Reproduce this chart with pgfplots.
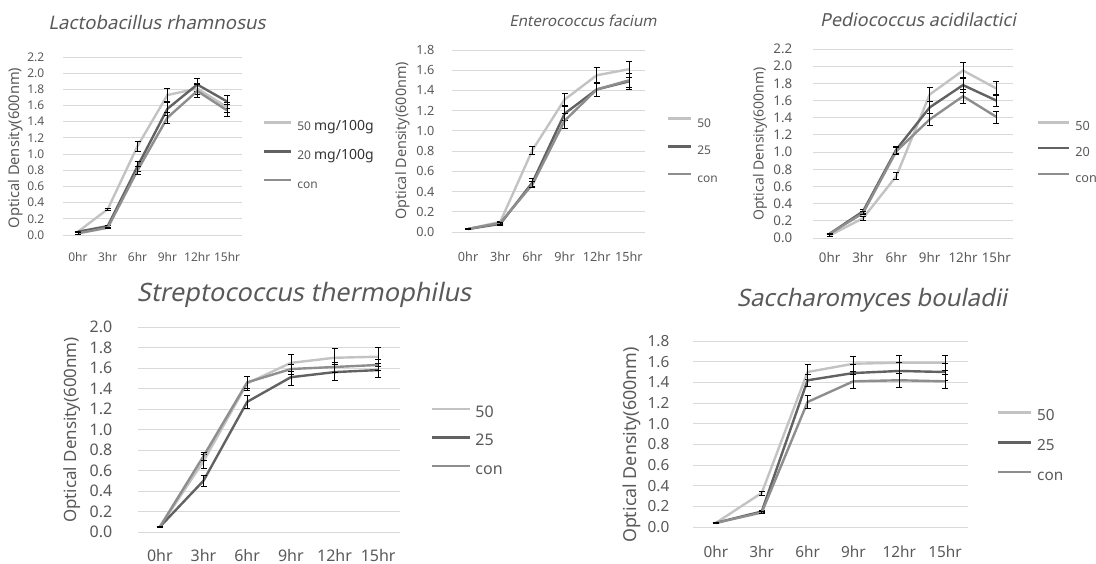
\documentclass[border=0pt]{standalone}
\usepackage{fontspec}
\setmainfont{Noto Sans}
\newfontfamily\tfont[FakeSlant=0.2]{Noto Sans}
\usepackage{pgfplots}
\pgfplotsset{compat=1.18}
\definecolor{cA}{HTML}{C3C3C3}
\definecolor{cB}{HTML}{626262}
\definecolor{cC}{HTML}{8E8E8E}
\definecolor{gridc}{HTML}{D9D9D9}
\definecolor{txt}{HTML}{595959}
\def\u{0.75pt}

\pgfplotsset{
  panel/.style={
    scale only axis, anchor=south west, clip=false,
    ymin=0, xmin=-0.5, xmax=5.5,
    xtick={0,...,5}, xticklabels={0hr,3hr,6hr,9hr,12hr,15hr},
    ytick distance=0.2,
    axis line style={draw=none}, tick style={draw=none}, major tick length=0pt,
    ymajorgrids, grid style={gridc, line width=0.75pt},
    /pgf/number format/assume math mode=true,
    /pgf/number format/fixed, /pgf/number format/fixed zerofill,
    /pgf/number format/precision=1,
    ticklabel style={text=txt},
    legend cell align=left,
    legend style={draw=none, fill=none, inner sep=0pt, anchor=west, text=txt,
      nodes={inner sep=0pt, text height=0.75em, text depth=0.2em},
      /tikz/every odd column/.style={column sep=3.5pt}},
  },
  leg/.style 2 args={legend image code/.code={\draw[##1] (0pt,0.35em) -- (#1,0.35em);},
    legend style={row sep=#2}},
  ser/.style={line width=1.8pt,
    error bars/y dir=both, error bars/y explicit,
    error bars/error bar style={black, line width=0.5pt},
    error bars/error mark options={black, rotate=90, mark size=2.25pt, line width=0.5pt}},
}

\begin{document}
\begin{tikzpicture}
\path[use as bounding box] (0,0) rectangle (1096*\u,-564*\u);

% Lactobacillus rhamnosus
\begin{axis}[panel, at={(63*\u,-235*\u)}, width=179*\u, height=178*\u, ymax=2.2,
  ticklabel style={font=\fontsize{9}{10}\selectfont},
  yticklabel style={anchor=east, xshift=-18*\u+3pt},
  xticklabel style={anchor=center, yshift=-22*\u},
  legend style={at={(1.117,0.444)}, font=\fontsize{9}{10}\selectfont},
  leg={27*\u}{12pt}]
\addplot[cA, ser] coordinates {(0,0.04) +- (0,0.01) (1,0.32) +- (0,0.01) (2,1.10) +- (0,0.06) (3,1.73) +- (0,0.08) (4,1.81) +- (0,0.07) (5,1.58) +- (0,0.06)};
\addlegendentry{50 {\color{black!80}\fontsize{10.5}{11}\selectfont mg/100g}}
\addplot[cB, ser] coordinates {(0,0.04) +- (0,0.01) (1,0.11) +- (0,0.01) (2,0.85) +- (0,0.06) (3,1.56) +- (0,0.08) (4,1.86) +- (0,0.08) (5,1.65) +- (0,0.08)};
\addlegendentry{20 {\color{black!80}\fontsize{10.5}{11}\selectfont mg/100g}}
\addplot[cC, ser] coordinates {(0,0.02) +- (0,0.01) (1,0.09) +- (0,0.01) (2,0.80) +- (0,0.05) (3,1.45) +- (0,0.07) (4,1.78) +- (0,0.08) (5,1.54) +- (0,0.07)};
\addlegendentry{con}
\end{axis}

% Enterococcus facium
\begin{axis}[panel, at={(452*\u,-232*\u)}, width=193*\u, height=182*\u, ymax=1.8,
  ticklabel style={font=\fontsize{9.5}{10}\selectfont},
  yticklabel style={anchor=east, xshift=-17*\u+3pt},
  xticklabel style={anchor=center, yshift=-25*\u},
  legend style={at={(1.114,0.445)}, font=\fontsize{9}{10}\selectfont},
  leg={23*\u}{11.25pt}]
\addplot[cA, ser] coordinates {(0,0.03) +- (0,0.005) (1,0.10) +- (0,0.01) (2,0.81) +- (0,0.04) (3,1.31) +- (0,0.06) (4,1.55) +- (0,0.08) (5,1.61) +- (0,0.08)};
\addlegendentry{50}
\addplot[cB, ser] coordinates {(0,0.03) +- (0,0.005) (1,0.08) +- (0,0.01) (2,0.49) +- (0,0.04) (3,1.17) +- (0,0.07) (4,1.41) +- (0,0.07) (5,1.49) +- (0,0.08)};
\addlegendentry{25}
\addplot[cC, ser] coordinates {(0,0.03) +- (0,0.005) (1,0.09) +- (0,0.01) (2,0.47) +- (0,0.03) (3,1.10) +- (0,0.07) (4,1.41) +- (0,0.07) (5,1.50) +- (0,0.07)};
\addlegendentry{con}
\end{axis}

% Pediococcus acidilactici
\begin{axis}[panel, at={(813*\u,-238*\u)}, width=200*\u, height=189*\u, ymax=2.2,
  ticklabel style={font=\fontsize{10}{11}\selectfont},
  yticklabel style={anchor=east, xshift=-20*\u+3pt},
  xticklabel style={anchor=center, yshift=-19*\u},
  legend style={at={(1.12,0.45)}, font=\fontsize{9.5}{10}\selectfont},
  leg={31*\u}{9.9pt}]
\addplot[cA, ser] coordinates {(0,0.03) +- (0,0.01) (1,0.23) +- (0,0.02) (2,0.72) +- (0,0.04) (3,1.67) +- (0,0.08) (4,1.95) +- (0,0.09) (5,1.74) +- (0,0.08)};
\addlegendentry{50}
\addplot[cB, ser] coordinates {(0,0.05) +- (0,0.01) (1,0.31) +- (0,0.02) (2,1.03) +- (0,0.04) (3,1.52) +- (0,0.07) (4,1.78) +- (0,0.09) (5,1.60) +- (0,0.07)};
\addlegendentry{20}
\addplot[cC, ser] coordinates {(0,0.05) +- (0,0.01) (1,0.29) +- (0,0.02) (2,1.01) +- (0,0.04) (3,1.38) +- (0,0.07) (4,1.65) +- (0,0.08) (5,1.41) +- (0,0.07)};
\addlegendentry{con}
\end{axis}

% Streptococcus thermophilus
\begin{axis}[panel, at={(138*\u,-532*\u)}, width=262*\u, height=205*\u, ymax=2.0,
  ticklabel style={font=\fontsize{12}{13}\selectfont},
  yticklabel style={anchor=east, xshift=-25*\u+3pt},
  xticklabel style={anchor=center, yshift=-23*\u},
  legend style={at={(1.115,0.439)}, font=\fontsize{12}{13}\selectfont},
  leg={38*\u}{11.85pt}]
\addplot[cA, ser] coordinates {(0,0.05) +- (0,0.005) (1,0.69) +- (0,0.07) (2,1.45) +- (0,0.07) (3,1.65) +- (0,0.08) (4,1.70) +- (0,0.09) (5,1.71) +- (0,0.09)};
\addlegendentry{50}
\addplot[cB, ser] coordinates {(0,0.05) +- (0,0.005) (1,0.50) +- (0,0.05) (2,1.27) +- (0,0.06) (3,1.51) +- (0,0.08) (4,1.56) +- (0,0.08) (5,1.58) +- (0,0.07)};
\addlegendentry{25}
\addplot[cC, ser] coordinates {(0,0.05) +- (0,0.005) (1,0.74) +- (0,0.04) (2,1.46) +- (0,0.06) (3,1.59) +- (0,0.05) (4,1.61) +- (0,0.05) (5,1.63) +- (0,0.05)};
\addlegendentry{con}
\end{axis}

% Saccharomyces bouladii
\begin{axis}[panel, at={(693*\u,-527*\u)}, width=275*\u, height=186*\u, ymax=1.8,
  ticklabel style={font=\fontsize{11.5}{12}\selectfont},
  yticklabel style={anchor=east, xshift=-23*\u+3pt},
  xticklabel style={anchor=center, yshift=-25*\u},
  legend style={at={(1.105,0.43)}, font=\fontsize{11.5}{12}\selectfont},
  leg={33*\u}{12.85pt}]
\addplot[cA, ser] coordinates {(0,0.04) +- (0,0.005) (1,0.33) +- (0,0.02) (2,1.50) +- (0,0.07) (3,1.58) +- (0,0.07) (4,1.59) +- (0,0.07) (5,1.59) +- (0,0.07)};
\addlegendentry{50}
\addplot[cB, ser] coordinates {(0,0.04) +- (0,0.005) (1,0.15) +- (0,0.01) (2,1.42) +- (0,0.06) (3,1.49) +- (0,0.08) (4,1.51) +- (0,0.08) (5,1.50) +- (0,0.08)};
\addlegendentry{25}
\addplot[cC, ser] coordinates {(0,0.04) +- (0,0.005) (1,0.14) +- (0,0.01) (2,1.21) +- (0,0.06) (3,1.41) +- (0,0.07) (4,1.42) +- (0,0.07) (5,1.41) +- (0,0.07)};
\addlegendentry{con}
\end{axis}

% titles
\node[text=txt, font=\tfont\fontsize{14}{15}\selectfont] at (157*\u,-22*\u) {Lactobacillus rhamnosus};
\node[text=txt, font=\tfont\fontsize{11.4}{12}\selectfont] at (583*\u,-21*\u) {Enterococcus facium};
\node[text=txt, font=\tfont\fontsize{13.5}{14}\selectfont] at (918*\u,-20*\u) {Pediococcus acidilactici};
\node[text=txt, font=\tfont\fontsize{19}{20}\selectfont] at (304*\u,-295*\u) {Streptococcus thermophilus};
\node[text=txt, font=\tfont\fontsize{18}{19}\selectfont] at (872*\u,-300*\u) {Saccharomyces bouladii};

% y labels
\node[text=txt, rotate=90, font=\fontsize{11}{12}\selectfont] at (16*\u,-148*\u) {Optical Density(600nm)};
\node[text=txt, rotate=90, font=\fontsize{10.8}{12}\selectfont] at (403*\u,-141*\u) {Optical Density(600nm)};
\node[text=txt, rotate=90, font=\fontsize{10.5}{12}\selectfont] at (760*\u,-144*\u) {Optical Density(600nm)};
\node[text=txt, rotate=90, font=\fontsize{12.7}{14}\selectfont] at (72*\u,-430*\u) {Optical Density(600nm)};
\node[text=txt, rotate=90, font=\fontsize{13.4}{15}\selectfont] at (632*\u,-445*\u) {Optical Density(600nm)};
\end{tikzpicture}
\end{document}
